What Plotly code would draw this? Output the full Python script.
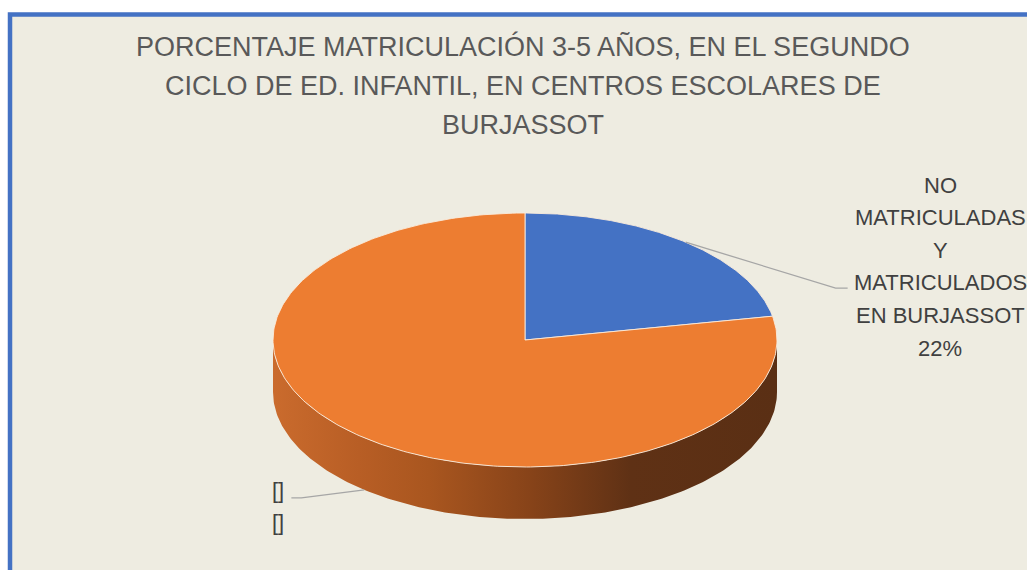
import numpy as np
import plotly.graph_objects as go

# ---- data ----
categories = ["NO MATRICULADAS Y MATRICULADOS EN BURJASSOT", "MATRICULADOS EN CENTROS DE BURJASSOT"]
values = [22, 78]
label_lines = [["NO", "MATRICULADAS", "Y", "MATRICULADOS", "EN BURJASSOT", "22%"], ["[]", "[]"]]
title_lines = ["PORCENTAJE MATRICULACIÓN 3-5 AÑOS, EN EL SEGUNDO",
               "CICLO DE ED. INFANTIL, EN CENTROS ESCOLARES DE",
               "BURJASSOT"]

# ---- style / geometry ----
W, H = 1027, 570
CX, CY, RX, RY, DEPTH = 525, 340, 252, 127, 52
top_colors = ["#4472C4", "#ED7D31"]
side_scales = [
    [[0, "#3f69b4"], [0.3, "#34589a"], [0.55, "#28446f"], [0.75, "#1f3557"], [1, "#1d3252"]],
    [[0, "#ca6b2d"], [0.17, "#b85e25"], [0.31, "#a9561f"], [0.51, "#874319"], [0.71, "#5f3115"], [1, "#5a2f14"]],
]
BG = "#EEECE1"
FONT = "Liberation Sans, Arial"
TXT = "#595959"
LBL = "#404040"

def ell(a_deg, dy=0.0):
    a = np.radians(a_deg)
    return CX + RX * np.cos(a), CY - RY * np.sin(a) + dy

fig = go.Figure()

total = float(sum(values))
starts, ends = [], []
a = 90.0
for v in values:
    starts.append(a)
    a -= 360.0 * v / total
    ends.append(a)

# side walls (front visible part: angles between -180 and 0)
for i in range(len(values)):
    lo, hi = max(ends[i], -180.0), min(starts[i], 0.0)
    if hi <= lo:
        continue
    ang = np.linspace(hi, lo, 200)
    xt, yt = ell(ang)
    xb, yb = ell(ang[::-1], DEPTH)
    fig.add_trace(go.Scatter(
        x=np.concatenate([xt, xb, xt[:1]]), y=np.concatenate([yt, yb, yt[:1]]),
        mode="lines", line=dict(width=0), fill="toself",
        fillgradient=dict(type="horizontal", colorscale=side_scales[i], start=CX - RX, stop=CX + RX),
        hoverinfo="skip", showlegend=False))

# top faces
for i in range(len(values)):
    ang = np.linspace(starts[i], ends[i], 300)
    xs, ys = ell(ang)
    fig.add_trace(go.Scatter(
        x=np.concatenate([[CX], xs, [CX]]), y=np.concatenate([[CY], ys, [CY]]),
        mode="lines", line=dict(width=1, color="rgba(250,235,220,0.9)"),
        fill="toself", fillcolor=top_colors[i], name=categories[i],
        hoverinfo="name", showlegend=False))

# leader lines
mid0 = (starts[0] + ends[0]) / 2
x0, y0 = ell(mid0)
fig.add_trace(go.Scatter(x=[x0, x0 + 150, x0 + 162], y=[y0, y0 + 46, y0 + 46], mode="lines",
                         line=dict(color="#A6A6A6", width=1.3), hoverinfo="skip", showlegend=False))
mid1 = (starts[1] + ends[1]) / 2
x1, y1 = ell(mid1, DEPTH)
fig.add_trace(go.Scatter(x=[x1, x1 - 63, x1 - 73], y=[y1, y1 + 8, y1 + 8], mode="lines",
                         line=dict(color="#A6A6A6", width=1.3), hoverinfo="skip", showlegend=False))

# data labels, one line at a time
label_pos = [(940, 185), (278, 490)]
for (lx, ly0), lines in zip(label_pos, label_lines):
    for k, line in enumerate(lines):
        fig.add_annotation(x=lx, y=ly0 + 32.6 * k, text=line, showarrow=False,
                           xanchor="center", yanchor="middle",
                           font=dict(family=FONT, size=22, color=LBL))

for yy, line in zip([46, 86, 124.5], title_lines):
    fig.add_annotation(x=523, y=yy, text=line, showarrow=False, xanchor="center", yanchor="middle",
                       font=dict(family=FONT, size=27, color=TXT))

fig.update_layout(
    width=W, height=H, margin=dict(l=0, r=0, t=0, b=0),
    paper_bgcolor="white", plot_bgcolor="white",
    xaxis=dict(range=[0, W], visible=False, fixedrange=True),
    yaxis=dict(range=[H, 0], visible=False, fixedrange=True),
    shapes=[dict(type="rect", xref="x", yref="y", x0=10, y0=14.5, x1=W + 60, y1=H + 60,
                 line=dict(color="#4472C4", width=4.5), fillcolor=BG, layer="below")],
)

fig.write_html("out.html", config={"displayModeBar": False},
               post_script="document.body.style.margin='0';")
